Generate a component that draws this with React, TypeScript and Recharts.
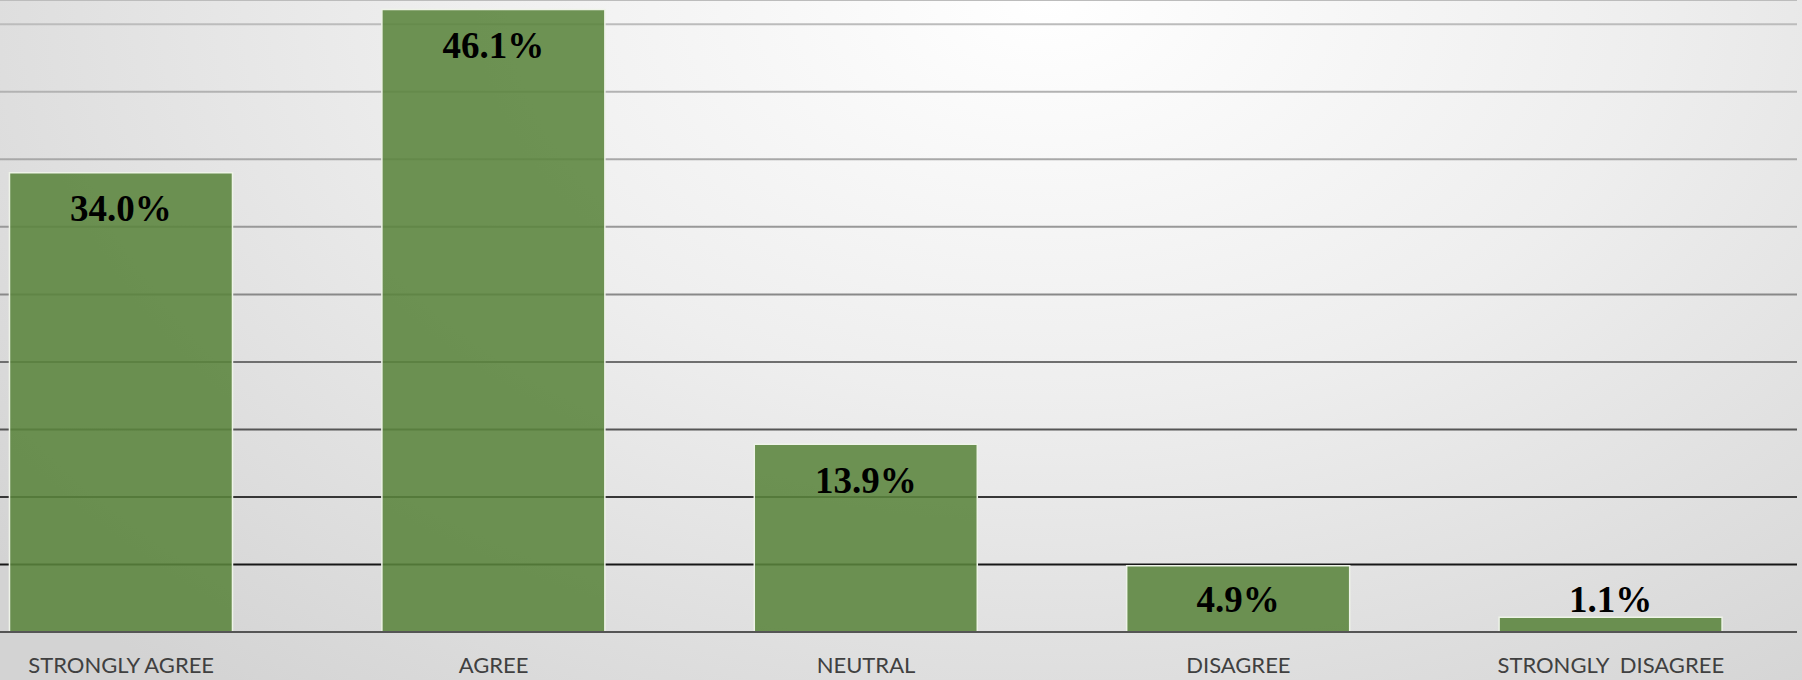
import React from "react";
import { BarChart, Bar, XAxis, YAxis, CartesianGrid, LabelList } from "recharts";

const categories = ["STRONGLY AGREE", "AGREE", "NEUTRAL", "DISAGREE", "STRONGLY  DISAGREE"];
const shares = [34.0, 46.1, 13.9, 4.9, 1.1];
const yTicks = [0, 5, 10, 15, 20, 25, 30, 35, 40, 45];

const data = categories.map((name, i) => ({ name, value: shares[i] }));

const CategoryTick = (props: any) => {
  const { x, y, payload } = props;
  return (
    <text
      x={x}
      y={y + 33}
      textAnchor="middle"
      fill="#404040"
      fontFamily="Lato, 'Open Sans', sans-serif"
      fontSize={22}
      style={{ whiteSpace: "pre" }}
    >
      {payload.value}
    </text>
  );
};

const ValueLabel = (props: any) => {
  const { x, y, width, height, value } = props;
  const cy = Math.min(y + 36, y + height - 33);
  return (
    <text
      x={x + width / 2}
      y={cy}
      textAnchor="middle"
      dominantBaseline="central"
      fill="#000"
      fontFamily="'Liberation Serif', 'Times New Roman', serif"
      fontWeight="bold"
      fontSize={37}
    >
      {Number(value).toFixed(1)}%
    </text>
  );
};

export default function App() {
  return (
    <div
      style={{
        position: "absolute",
        left: 0,
        top: 0,
        width: 1802,
        height: 680,
        overflow: "hidden",
        background:
          "radial-gradient(ellipse 75% 130% at 58% 0%, #ffffff 0%, #eeeeee 45%, #d3d3d3 100%)",
      }}
    >
      <div style={{ position: "absolute", left: -65, top: 0 }}>
        <BarChart
          width={1867}
          height={680}
          data={data}
          margin={{ top: 0, right: 5, left: 0, bottom: 0 }}
          barCategoryGap="20%"
        >
          <defs>
            <linearGradient id="gridStroke" gradientUnits="userSpaceOnUse" x1={0} y1={0} x2={0} y2={632}>
              <stop offset="0.04" stopColor="#bcbcbc" />
              <stop offset="0.25" stopColor="#a8a8a8" />
              <stop offset="0.47" stopColor="#888888" />
              <stop offset="0.68" stopColor="#555555" />
              <stop offset="0.9" stopColor="#151515" />
              <stop offset="1" stopColor="#111111" />
            </linearGradient>
          </defs>
          <CartesianGrid vertical={false} stroke="url(#gridStroke)" strokeWidth={2} />
          <YAxis hide domain={[0, 46.8]} ticks={yTicks} allowDataOverflow />
          <XAxis
            dataKey="name"
            height={48}
            axisLine={{ stroke: "#555555", strokeWidth: 2 }}
            tickLine={false}
            tick={<CategoryTick />}
            interval={0}
          />
          <Bar
            dataKey="value"
            fill="#5a843c"
            fillOpacity={0.88}
            stroke="#eef3e8"
            strokeWidth={1.5}
            isAnimationActive={false}
          >
            <LabelList dataKey="value" content={<ValueLabel />} />
          </Bar>
        </BarChart>
      </div>
    </div>
  );
}
